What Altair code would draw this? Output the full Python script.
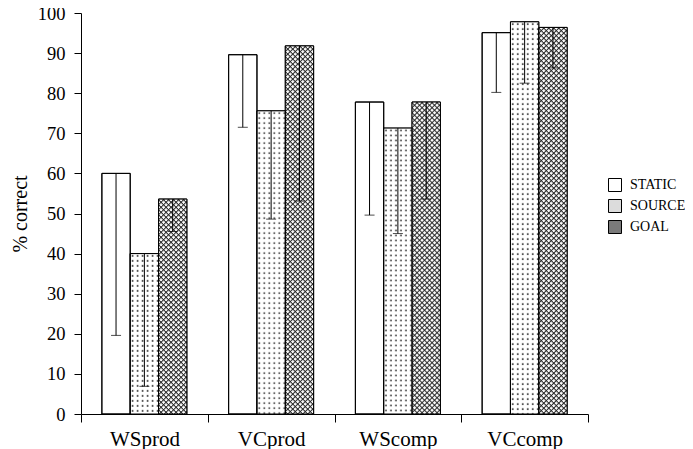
import json
import base64
import altair as alt
import pandas as pd

categories = ["WSprod", "VCprod", "WScomp", "VCcomp"]
series = ["STATIC", "SOURCE", "GOAL"]
static_vals = [60.0, 89.6, 77.8, 95.1]
source_vals = [40.0, 75.6, 71.3, 97.8]
goal_vals = [53.6, 91.8, 77.8, 96.4]
static_low = [19.6, 71.5, 49.6, 80.2]
source_low = [6.9, 48.6, 45.0, 82.5]
goal_low = [45.5, 53.1, 53.6, 86.3]
y_ticks = list(range(0, 101, 10))

FONT = "Liberation Serif"
Y_TITLE = "% correct"
BAR_W = 0.2235  # bar width as a fraction of one category step

rows = []
for si, (s, vals, lows) in enumerate(zip(series, [static_vals, source_vals, goal_vals],
                                         [static_low, source_low, goal_low])):
    for ci, c in enumerate(categories):
        left = ci + (si - 1.5) * BAR_W
        rows.append(dict(category=c, series=s, value=vals[ci], low=lows[ci],
                         x0=left, x1=left + BAR_W, xc=left + BAR_W / 2, zero=0))
df = pd.DataFrame(rows)


def svg_uri(svg):
    return "data:image/svg+xml;base64," + base64.b64encode(svg.encode()).decode()


dots_svg = (
    '<svg xmlns="http://www.w3.org/2000/svg" width="100%" height="100%">'
    '<defs><pattern id="d" width="5" height="5" patternUnits="userSpaceOnUse">'
    '<rect width="5" height="5" fill="#ffffff"/>'
    '<rect x="1.5" y="1.5" width="1.6" height="1.6" fill="#222222"/>'
    '</pattern></defs>'
    '<rect width="100%" height="100%" fill="url(#d)"/></svg>'
)
p = 3.5355
cross_svg = (
    '<svg xmlns="http://www.w3.org/2000/svg" width="100%" height="100%">'
    f'<defs><pattern id="c" width="{p}" height="{p}" patternUnits="userSpaceOnUse" patternTransform="rotate(45)">'
    f'<rect width="{p}" height="{p}" fill="#ffffff"/>'
    f'<rect width="{p}" height="1" fill="#222222"/>'
    f'<rect width="1" height="{p}" fill="#222222"/>'
    '</pattern></defs>'
    '<rect width="100%" height="100%" fill="url(#c)"/></svg>'
)
dots_uri = svg_uri(dots_svg)
cross_uri = svg_uri(cross_svg)

xscale = alt.Scale(domain=[-0.5, len(categories) - 0.5], nice=False, zero=False)
yscale = alt.Scale(domain=[0, 100], nice=False)

x_axis = alt.Axis(
    values=[i - 0.5 for i in range(len(categories) + 1)],
    labelExpr=f"datum.value < {len(categories) - 1} ? {json.dumps(categories)}[round(datum.value + 0.5)] : ''",
    labelOffset=63.4, tickSize=8, labelPadding=6, labelFontSize=21, labelFont=FONT,
    labelColor="black", title=None, grid=False, domainColor="black", tickColor="black",
    labelFlush=False, labelOverlap=False, labelBound=False,
)
y_axis = alt.Axis(
    values=y_ticks, tickSize=7, labelPadding=9, labelFontSize=18.5, labelFont=FONT,
    labelColor="black", grid=False, domainColor="black", tickColor="black",
    labelOverlap=False,
    title=Y_TITLE, titleFont=FONT, titleFontSize=20, titleFontWeight="normal",
    titleColor="black", titleX=-61, titleY=200.5, titleAngle=270,
    titleAlign="center", titleBaseline="middle",
)

base = alt.Chart(df)

bars = base.mark_rect(stroke="black", strokeWidth=1).encode(
    x=alt.X("x0:Q", scale=xscale, axis=x_axis),
    x2="x1:Q",
    y=alt.Y("value:Q", scale=yscale, axis=y_axis, title=Y_TITLE),
    y2="zero:Q",
    color=alt.Color(
        "series:N",
        scale=alt.Scale(domain=series, range=["#ffffff", "#dcdcdc", "#7a7a7a"]),
        legend=alt.Legend(
            title=None, orient="none", legendX=527, legendY=165, symbolType="square",
            symbolSize=169, symbolStrokeColor="black", symbolStrokeWidth=1,
            labelFont=FONT, labelFontSize=14, labelColor="black", rowPadding=3,
            labelOffset=8, padding=0,
        ),
    ),
)

pat_source = base.transform_filter(alt.datum.series == "SOURCE").mark_image(aspect=False).encode(
    x=alt.X("x0:Q", title=None), x2="x1:Q",
    y=alt.Y("value:Q", title=Y_TITLE), y2="zero:Q",
    url=alt.value(dots_uri),
)
pat_goal = base.transform_filter(alt.datum.series == "GOAL").mark_image(aspect=False).encode(
    x=alt.X("x0:Q", title=None), x2="x1:Q",
    y=alt.Y("value:Q", title=Y_TITLE), y2="zero:Q",
    url=alt.value(cross_uri),
)

outline = base.mark_rect(fill="transparent", stroke="black", strokeWidth=1).encode(
    x=alt.X("x0:Q", title=None), x2="x1:Q",
    y=alt.Y("value:Q", title=Y_TITLE), y2="zero:Q",
)

err = base.mark_rule(color="black", strokeWidth=1).encode(
    x=alt.X("xc:Q", title=None),
    y=alt.Y("value:Q", title=Y_TITLE), y2="low:Q",
)
caps = base.mark_tick(color="black", thickness=1, size=10, orient="horizontal").encode(
    x=alt.X("xc:Q", title=None),
    y=alt.Y("low:Q", title=Y_TITLE),
)

chart = alt.layer(bars, pat_source, pat_goal, outline, err, caps).properties(
    width=507, height=401,
    padding={"left": 73, "top": 5, "right": 97, "bottom": 35},
    autosize=alt.AutoSizeParams(type="none"),
    background="white",
).configure_view(stroke=None)

chart.save("out.html", embed_options={"renderer": "svg", "actions": False})
